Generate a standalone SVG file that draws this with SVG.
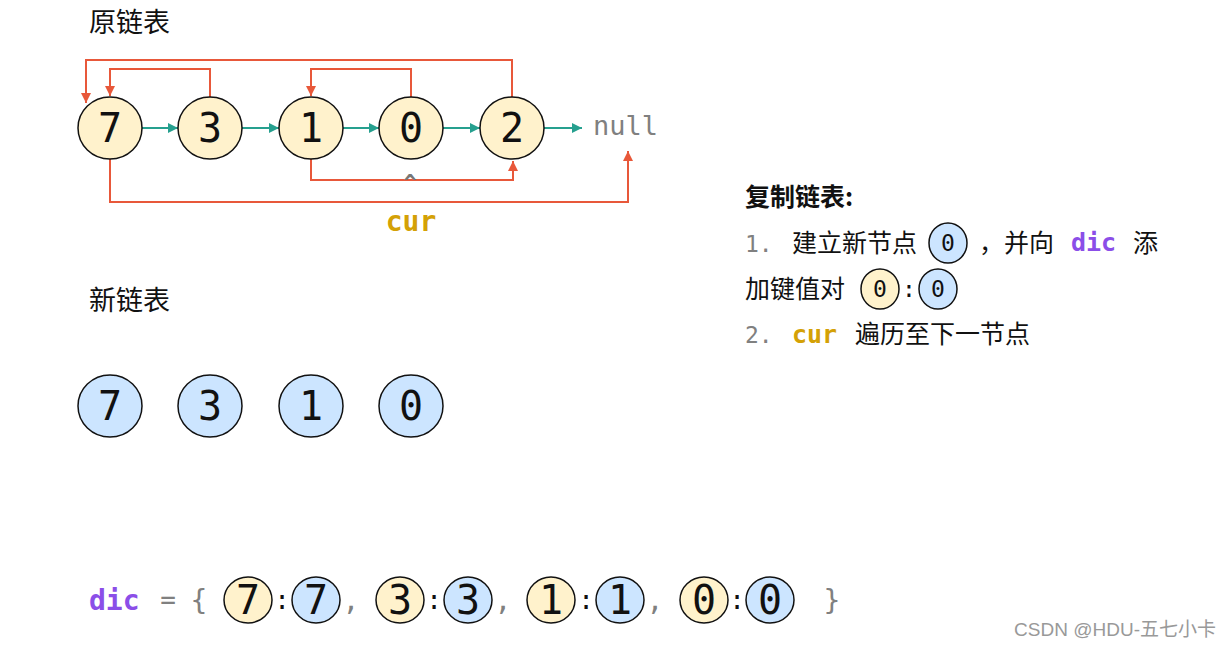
<svg xmlns="http://www.w3.org/2000/svg" width="1232" height="648" viewBox="0 0 1232 648">
<style>
.cn{font-family:"Noto Sans CJK SC","Noto Sans",sans-serif;fill:#111}
.mono{font-family:"DejaVu Sans Mono","Liberation Mono",monospace}
.y{fill:#fff2cc;stroke:#111;stroke-width:1.5}
.b{fill:#cce5ff;stroke:#111;stroke-width:1.5}
.d{font-family:"DejaVu Sans Mono","Liberation Mono",monospace;fill:#111;text-anchor:middle}
.red{fill:none;stroke:#e8583a;stroke-width:2}
.teal{fill:none;stroke:#26a08f;stroke-width:2}
.gray{fill:#808080}
.pur{fill:#8b4ee8;font-weight:bold}
.gold{fill:#d4a106;font-weight:bold}
</style>
<defs>
<marker id="ar" viewBox="0 0 10 10" refX="10" refY="5" markerWidth="11" markerHeight="10" markerUnits="userSpaceOnUse" orient="auto"><path d="M0,0L10,5L0,10z" fill="#e8583a"/></marker>
<marker id="at" viewBox="0 0 10 10" refX="10" refY="5" markerWidth="10" markerHeight="10" markerUnits="userSpaceOnUse" orient="auto"><path d="M0,0L10,5L0,10z" fill="#26a08f"/></marker>
</defs>
<rect width="1232" height="648" fill="#fff"/>
<text class="cn" x="89" y="32" font-size="27">原链表</text>
<text class="cn" x="89" y="310" font-size="27">新链表</text>

<g id="connectors">
<path class="teal" d="M142,128H178" marker-end="url(#at)"/>
<path class="teal" d="M242,128H279" marker-end="url(#at)"/>
<path class="teal" d="M343,128H379" marker-end="url(#at)"/>
<path class="teal" d="M443,128H480" marker-end="url(#at)"/>
<path class="teal" d="M544,128H582" marker-end="url(#at)"/>
<path class="red" d="M210,97V69H110V96" marker-end="url(#ar)"/>
<path class="red" d="M512,97V60H86V103" marker-end="url(#ar)"/>
<path class="red" d="M411,97V69H311V96" marker-end="url(#ar)"/>
<path class="red" d="M311,159V180H513V161" marker-end="url(#ar)"/>
<path class="red" d="M110,159V202H628V151" marker-end="url(#ar)"/>
</g>

<g id="o7"><ellipse class="y" cx="110" cy="128" rx="32" ry="31"/><text class="d" x="110" y="142" font-size="40">7</text></g>
<g id="o3"><ellipse class="y" cx="210" cy="128" rx="32" ry="31"/><text class="d" x="210" y="142" font-size="40">3</text></g>
<g id="o1"><ellipse class="y" cx="311" cy="128" rx="32" ry="31"/><text class="d" x="311" y="142" font-size="40">1</text></g>
<g id="o0"><ellipse class="y" cx="411" cy="128" rx="32" ry="31"/><text class="d" x="411" y="142" font-size="40">0</text></g>
<g id="o2"><ellipse class="y" cx="512" cy="128" rx="32" ry="31"/><text class="d" x="512" y="142" font-size="40">2</text></g>
<g id="null"><text class="mono gray" x="593" y="135" font-size="27">null</text></g>
<text class="mono" x="410" y="190" font-size="22" font-weight="bold" fill="#777" text-anchor="middle">^</text>
<text class="mono gold" x="411" y="231" font-size="28" text-anchor="middle">cur</text>

<g id="n7"><ellipse class="b" cx="110" cy="406" rx="32" ry="31"/><text class="d" x="110" y="420" font-size="40">7</text></g>
<g id="n3"><ellipse class="b" cx="210" cy="406" rx="32" ry="31"/><text class="d" x="210" y="420" font-size="40">3</text></g>
<g id="n1"><ellipse class="b" cx="311" cy="406" rx="32" ry="31"/><text class="d" x="311" y="420" font-size="40">1</text></g>
<g id="n0"><ellipse class="b" cx="411" cy="406" rx="32" ry="31"/><text class="d" x="411" y="420" font-size="40">0</text></g>

<g id="explain">
<text class="cn" x="745" y="206" font-size="25" font-weight="bold">复制链表:</text>
<text class="mono gray" x="745" y="252" font-size="23">1.</text>
<text class="cn" x="792" y="252" font-size="25">建立新节点</text>
<ellipse class="b" cx="948" cy="243" rx="19" ry="20"/><text class="d" x="948" y="251" font-size="23">0</text>
<text class="cn" x="979" y="252" font-size="25">，并向</text>
<text class="mono pur" x="1071" y="251" font-size="25">dic</text>
<text class="cn" x="1133" y="252" font-size="25">添</text>
<text class="cn" x="745" y="298" font-size="25">加键值对</text>
<ellipse class="y" cx="880" cy="289" rx="19" ry="20"/><text class="d" x="880" y="297" font-size="23">0</text>
<text class="mono" x="909" y="297" font-size="23" fill="#111" text-anchor="middle">:</text>
<ellipse class="b" cx="938" cy="289" rx="19" ry="20"/><text class="d" x="938" y="297" font-size="23">0</text>
<text class="mono gray" x="745" y="343" font-size="23">2.</text>
<text class="mono gold" x="792" y="343" font-size="25">cur</text>
<text class="cn" x="855" y="343" font-size="25">遍历至下一节点</text>
</g>

<g id="dict">
<text class="mono pur" x="89" y="610" font-size="28">dic</text>
<text class="mono gray" x="168" y="609" font-size="26" text-anchor="middle">=</text>
<text class="mono gray" x="199" y="610" font-size="28" text-anchor="middle">{</text>
<ellipse class="y" cx="248" cy="600" rx="24" ry="23"/><text class="d" x="248" y="614" font-size="40">7</text>
<text class="mono" x="282" y="609" font-size="26" fill="#111" text-anchor="middle">:</text>
<ellipse class="b" cx="316" cy="600" rx="24" ry="23"/><text class="d" x="316" y="614" font-size="40">7</text>
<text class="mono gray" x="351" y="610" font-size="28" text-anchor="middle">,</text>
<ellipse class="y" cx="400" cy="600" rx="24" ry="23"/><text class="d" x="400" y="614" font-size="40">3</text>
<text class="mono" x="434" y="609" font-size="26" fill="#111" text-anchor="middle">:</text>
<ellipse class="b" cx="468" cy="600" rx="24" ry="23"/><text class="d" x="468" y="614" font-size="40">3</text>
<text class="mono gray" x="503" y="610" font-size="28" text-anchor="middle">,</text>
<ellipse class="y" cx="551" cy="600" rx="24" ry="23"/><text class="d" x="551" y="614" font-size="40">1</text>
<text class="mono" x="586" y="609" font-size="26" fill="#111" text-anchor="middle">:</text>
<ellipse class="b" cx="620" cy="600" rx="24" ry="23"/><text class="d" x="620" y="614" font-size="40">1</text>
<text class="mono gray" x="655" y="610" font-size="28" text-anchor="middle">,</text>
<ellipse class="y" cx="704" cy="600" rx="24" ry="23"/><text class="d" x="704" y="614" font-size="40">0</text>
<text class="mono" x="737" y="609" font-size="26" fill="#111" text-anchor="middle">:</text>
<ellipse class="b" cx="770" cy="600" rx="24" ry="23"/><text class="d" x="770" y="614" font-size="40">0</text>
<text class="mono gray" x="832" y="610" font-size="28" text-anchor="middle">}</text>
</g>
<text x="1216" y="636" font-family="'Liberation Sans','Noto Sans CJK SC',sans-serif" font-size="19" fill="#999" text-anchor="end">CSDN @HDU-五七小卡</text>
</svg>
